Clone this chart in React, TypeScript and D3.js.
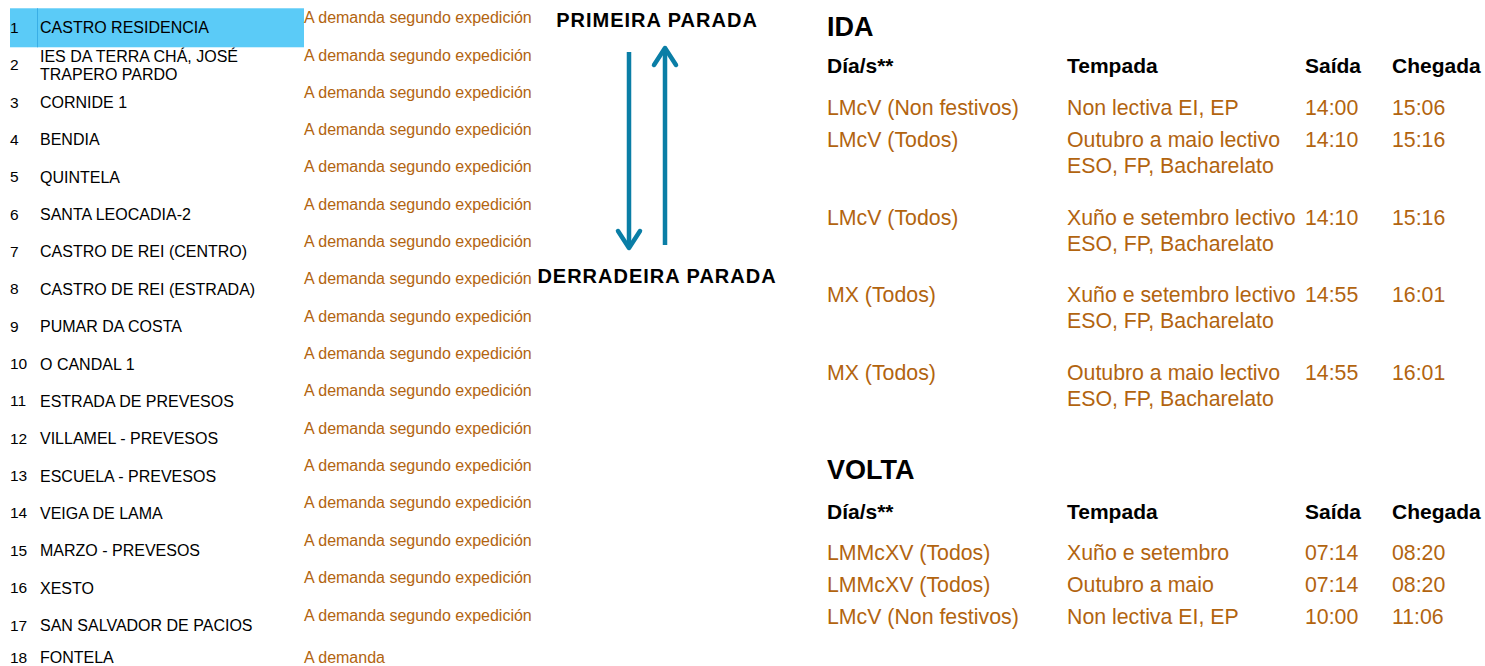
import React from "react";
import * as d3 from "d3";

// ---- Data ----
const stopNumbers = ["1","2","3","4","5","6","7","8","9","10","11","12","13","14","15","16","17","18"];
const stopNames = [
  "CASTRO RESIDENCIA",
  "IES DA TERRA CHÁ, JOSÉ\nTRAPERO PARDO",
  "CORNIDE 1",
  "BENDIA",
  "QUINTELA",
  "SANTA LEOCADIA-2",
  "CASTRO DE REI (CENTRO)",
  "CASTRO DE REI (ESTRADA)",
  "PUMAR DA COSTA",
  "O CANDAL 1",
  "ESTRADA DE PREVESOS",
  "VILLAMEL - PREVESOS",
  "ESCUELA - PREVESOS",
  "VEIGA DE LAMA",
  "MARZO - PREVESOS",
  "XESTO",
  "SAN SALVADOR DE PACIOS",
  "FONTELA",
];
const stopTimes = [
  "A demanda segundo expedición","A demanda segundo expedición","A demanda segundo expedición",
  "A demanda segundo expedición","A demanda segundo expedición","A demanda segundo expedición",
  "A demanda segundo expedición","A demanda segundo expedición","A demanda segundo expedición",
  "A demanda segundo expedición","A demanda segundo expedición","A demanda segundo expedición",
  "A demanda segundo expedición","A demanda segundo expedición","A demanda segundo expedición",
  "A demanda segundo expedición","A demanda segundo expedición","A demanda",
];
const highlightedStop = 1;

const firstStopLabel = "PRIMEIRA PARADA";
const lastStopLabel = "DERRADEIRA PARADA";

const tableHeaders = ["Día/s**", "Tempada", "Saída", "Chegada"];

const idaTitle = "IDA";
const idaDias = ["LMcV (Non festivos)", "LMcV (Todos)", "LMcV (Todos)", "MX (Todos)", "MX (Todos)"];
const idaTempada = [
  "Non lectiva EI, EP",
  "Outubro a maio lectivo\nESO, FP, Bacharelato",
  "Xuño e setembro lectivo\nESO, FP, Bacharelato",
  "Xuño e setembro lectivo\nESO, FP, Bacharelato",
  "Outubro a maio lectivo\nESO, FP, Bacharelato",
];
const idaSaida = ["14:00", "14:10", "14:10", "14:55", "14:55"];
const idaChegada = ["15:06", "15:16", "15:16", "16:01", "16:01"];

const voltaTitle = "VOLTA";
const voltaDias = ["LMMcXV (Todos)", "LMMcXV (Todos)", "LMcV (Non festivos)"];
const voltaTempada = ["Xuño e setembro", "Outubro a maio", "Non lectiva EI, EP"];
const voltaSaida = ["07:14", "07:14", "10:00"];
const voltaChegada = ["08:20", "08:20", "11:06"];

// ---- Style ----
const W = 1485;
const H = 666;
const FONT = "'Liberation Sans', Arial, sans-serif";
const ORANGE = "#b2640f";
const BLUE = "#0a7ea6";
const HIGHLIGHT = "#5bcbf7";

function Lines({ x, y, text, size, fill, weight, lh }: any) {
  const parts = String(text).split("\n");
  return (
    <text x={x} y={y} fontSize={size} fill={fill} fontWeight={weight || "normal"} fontFamily={FONT} dominantBaseline="central">
      {parts.map((p, i) => (
        <tspan key={i} x={x} y={y + i * lh}>{p}</tspan>
      ))}
    </text>
  );
}

function Arrow({ x, y1, y2 }: { x: number; y1: number; y2: number }) {
  const dir = y2 > y1 ? 1 : -1;
  const head = d3.line()([
    [x - 11, y2 - dir * 17],
    [x, y2],
    [x + 11, y2 - dir * 17],
  ]) as string;
  return (
    <g stroke={BLUE} strokeWidth={4.5} fill="none">
      <line x1={x} x2={x} y1={y1} y2={y2 - dir * 2} />
      <path d={head} strokeLinecap="round" strokeLinejoin="round" />
    </g>
  );
}

function Table({ title, titleY, headerY, rowsY, dias, tempada, saida, chegada, cols }: any) {
  const rs = 21.3;
  return (
    <g>
      <text x={cols(0)} y={titleY} fontSize={27} fontWeight="bold" fontFamily={FONT} dominantBaseline="central" fill="#000">{title}</text>
      {tableHeaders.map((h, i) => (
        <text key={h} x={cols(i)} y={headerY} fontSize={21} fontWeight="bold" fontFamily={FONT} dominantBaseline="central" fill="#000">{h}</text>
      ))}
      {dias.map((d: string, i: number) => (
        <g key={i}>
          <Lines x={cols(0)} y={rowsY[i]} text={d} size={rs} fill={ORANGE} lh={26} />
          <Lines x={cols(1)} y={rowsY[i]} text={tempada[i]} size={rs} fill={ORANGE} lh={26} />
          <Lines x={cols(2)} y={rowsY[i]} text={saida[i]} size={rs} fill={ORANGE} lh={26} />
          <Lines x={cols(3)} y={rowsY[i]} text={chegada[i]} size={rs} fill={ORANGE} lh={26} />
        </g>
      ))}
    </g>
  );
}

export default function App() {
  // left list: row index -> y
  const yRow = d3.scaleLinear().domain([3, 17]).range([102, 625]);
  const xNum = 10;
  const xName = 40;
  const xTime = 304;

  // table columns
  const cols = d3.scaleOrdinal<number, number>().domain([0, 1, 2, 3]).range([827, 1067, 1305, 1392]);

  const lineCount = (t: string) => t.split("\n").length;
  const idaHeights = idaTempada.map((t) => (lineCount(t) > 1 ? 77.5 : 32));
  const idaStart = 108;
  const idaY = idaHeights.map((_, i) => idaStart + d3.sum(idaHeights.slice(0, i)));
  const voltaHeights = voltaTempada.map((t) => (lineCount(t) > 1 ? 77.5 : 32));
  const voltaStart = 553;
  const voltaY = voltaHeights.map((_, i) => voltaStart + d3.sum(voltaHeights.slice(0, i)));

  const hlY = yRow(highlightedStop);

  return (
    <svg width={W} height={H} style={{ position: "absolute", left: 0, top: 0, background: "#fff" }}>
      <rect x={0} y={0} width={W} height={H} fill="#fff" />
      {/* highlight */}
      <rect x={10} y={hlY - 19} width={294} height={39} fill={HIGHLIGHT} />
      <line x1={37.5} x2={37.5} y1={hlY - 19} y2={hlY + 20} stroke="#39aee6" strokeWidth={1} />

      {stopNames.map((name, i) => {
        const r = i + 1;
        const y = Math.min(yRow(r), H - 9);
        const nl = lineCount(name);
        const nameY = y - ((nl - 1) * 18) / 2;
        const timeY = stopTimes[i] === "A demanda" ? y : (nl > 1 ? nameY : y - 10);
        return (
          <g key={i}>
            <text x={xNum} y={y} fontSize={15.5} fontFamily={FONT} dominantBaseline="central" fill="#000">{stopNumbers[i]}</text>
            <Lines x={xName} y={nameY} text={name} size={16} fill="#000" lh={18} />
            <text x={xTime} y={timeY} fontSize={16} fontFamily={FONT} dominantBaseline="central" fill={ORANGE}>{stopTimes[i]}</text>
          </g>
        );
      })}

      {/* arrows */}
      <text x={657} y={20} fontSize={20} letterSpacing={1} fontWeight="bold" fontFamily={FONT} textAnchor="middle" dominantBaseline="central" fill="#000">{firstStopLabel}</text>
      <text x={657} y={276} fontSize={20} letterSpacing={1} fontWeight="bold" fontFamily={FONT} textAnchor="middle" dominantBaseline="central" fill="#000">{lastStopLabel}</text>
      <Arrow x={629} y1={52} y2={248} />
      <Arrow x={665} y1={245} y2={48} />

      <Table title={idaTitle} titleY={27} headerY={65} rowsY={idaY} dias={idaDias} tempada={idaTempada} saida={idaSaida} chegada={idaChegada} cols={cols} />
      <Table title={voltaTitle} titleY={470} headerY={511} rowsY={voltaY} dias={voltaDias} tempada={voltaTempada} saida={voltaSaida} chegada={voltaChegada} cols={cols} />
    </svg>
  );
}
